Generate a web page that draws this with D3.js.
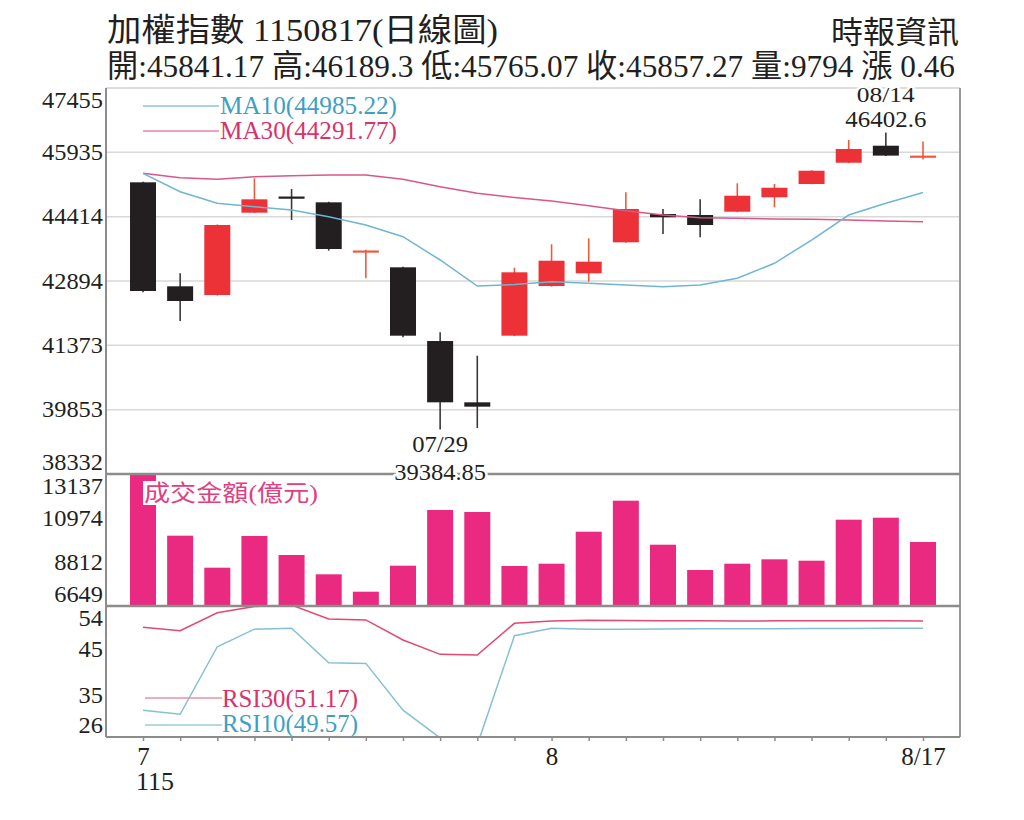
<!DOCTYPE html>
<html><head><meta charset="utf-8">
<script src="https://cdn.jsdelivr.net/npm/d3@7"></script>
<style>body{margin:0;background:#fff}svg{display:block;background:#fff}</style>
</head><body><svg id="c" width="1024" height="820"></svg>
<script>
// ---------- data ----------
const dates = ["07/17","07/20","07/21","07/22","07/23","07/24","07/27","07/28","07/29","07/30","07/31",
               "08/03","08/04","08/05","08/06","08/07","08/10","08/11","08/12","08/13","08/14","08/17"];
const openP  = [45226,42768,42562,44508,44890,44753,43595,43217,41475,40026,41601,
                42775,43075,43808,44477,44453,44531,44872,45186,45689,46091,45841.17];
const highP  = [45240,43075,44230,45320,45068,44765,43630,43230,41681,41128,43208,
                43761,43902,44989,44595,44824,45202,45186,45510,46226,46402.6,46189.3];
const lowP   = [42630,41948,42550,44500,44335,43610,42957,41563,39384.85,39420,41590,
                42760,42877,43800,44004,43926,44520,44635,45180,45680,45850,45765.07];
const closeP = [42657,42421,44217,44824,44860,43650,43615,41601,40026,39923,43099,
                43373,43350,44595,44399,44217,44909,45098,45500,46013,45856.81,45857.27];
const volume = [13250,10105,8532,10090,9156,8206,7352,8630,11368,11269,8615,
                8728,10301,11825,9662,8418,8728,8944,8876,10891,10989,9794];
const ma10 = [45439,45004,44730,44649,44571,44413,44217,43941,43390,42775,42810,
              42877,42838,42799,42759,42799,42957,43312,43862,44453,44730,44985.22];
const ma30 = [45439,45335,45297,45359,45382,45399,45399,45297,45122,44966,44866,
              44784,44673,44555,44453,44390,44375,44359,44351,44335,44311,44291.77];
const rsi10 = [31.9,31.0,45.6,49.4,49.6,42.15,42.0,31.9,25.9,24.4,47.98,
               49.58,49.37,49.4,49.45,49.5,49.5,49.5,49.55,49.55,49.57,49.57];
const rsi30 = [49.8,49.06,52.95,54.3,54.6,51.6,51.4,47.05,43.96,43.8,50.66,
               51.16,51.3,51.25,51.2,51.2,51.15,51.2,51.2,51.2,51.2,51.17];
const priceTicks  = [38332,39853,41373,42894,44414,45935,47455];
const volumeTicks = [6649,8812,10974,13137];
const rsiTicks    = [26,35,45,54];
const xTickLabels = {"07/17":"7","08/03":"8","08/17":"8/17"};
const yearLabel = "115";
const titleText = "加權指數 1150817(日線圖)";
const infoText  = "開:45841.17 高:46189.3 低:45765.07 收:45857.27 量:9794 漲 0.46";
const sourceText = "時報資訊";
const ma10Label = "MA10(44985.22)", ma30Label = "MA30(44291.77)";
const rsi30Label = "RSI30(51.17)", rsi10Label = "RSI10(49.57)";
const volLabel = "成交金額(億元)";
const hiNote = ["08/14","46402.6"], loNote = ["07/29","39384.85"];

// ---------- layout ----------
const L = 106, R = 960, T = 88, PB = 474, VB = 606, RB = 737;
const SERIF = "'Liberation Serif','DejaVu Serif','Noto Sans CJK TC',serif";
const CJK = "'Liberation Serif','Noto Sans CJK TC',serif";
const RED = "#ec3237", RED_WICK = "#ef5a3c", BLACK = "#231f20";
const PINK = "#ea2a80", CYAN_L = "#6fb6d0", MAG_L = "#d9578a";

const svg = d3.select("#c");
const x = d3.scalePoint().domain(dates).range([143, 923]);
const yP = d3.scaleLinear().domain([38332, 47455]).range([PB, T]);
const yV = d3.scaleLinear().domain([6649, 13137]).range([VB, PB]).clamp(true);
const yR = d3.scaleLinear().domain([26.1, 54.4]).range([RB, VB]);

const defs = svg.append("defs");
function clip(id, y0, y1){
  defs.append("clipPath").attr("id", id).append("rect")
    .attr("x", L).attr("y", y0).attr("width", R - L).attr("height", y1 - y0);
}
clip("cp", T, PB); clip("cv", PB, VB); clip("cr", VB, RB);

// gridlines
svg.append("g").selectAll("line").data(priceTicks.slice(1, -1)).join("line")
  .attr("x1", L).attr("x2", R).attr("y1", d => yP(d)).attr("y2", d => yP(d))
  .attr("stroke", "#d9d9d9").attr("stroke-width", 1.5);
svg.append("line").attr("x1", L).attr("x2", R).attr("y1", T).attr("y2", T)
  .attr("stroke", "#d0d0d0").attr("stroke-width", 1.5);

// ---------- candles ----------
const idx = d3.range(dates.length);
const gc = svg.append("g").attr("clip-path", "url(#cp)");
const bw = 26;
gc.selectAll("line.w").data(idx).join("line").attr("class", "w")
  .attr("x1", i => x(dates[i])).attr("x2", i => x(dates[i]))
  .attr("y1", i => yP(highP[i])).attr("y2", i => yP(lowP[i]))
  .attr("stroke", i => closeP[i] >= openP[i] ? RED_WICK : "#3a3a3a")
  .attr("stroke-width", 1.6);
gc.selectAll("rect.b").data(idx).join("rect").attr("class", "b")
  .attr("x", i => x(dates[i]) - bw / 2).attr("width", bw)
  .attr("y", i => yP(Math.max(openP[i], closeP[i])))
  .attr("height", i => Math.max(2.2, Math.abs(yP(openP[i]) - yP(closeP[i]))))
  .attr("fill", i => {
    const up = closeP[i] >= openP[i];
    const small = Math.abs(yP(openP[i]) - yP(closeP[i])) < 2.2;
    return up ? (small ? RED_WICK : RED) : BLACK;
  });

// MA lines
const line = (arr, sc) => d3.line().x((d, i) => x(dates[i])).y(d => sc(d))(arr);
gc.append("path").attr("d", line(ma30, yP)).attr("fill", "none").attr("stroke", MAG_L).attr("stroke-width", 1.5);
gc.append("path").attr("d", line(ma10, yP)).attr("fill", "none").attr("stroke", CYAN_L).attr("stroke-width", 1.5);

// ---------- volume ----------
const gv = svg.append("g").attr("clip-path", "url(#cv)");
gv.selectAll("rect").data(idx).join("rect")
  .attr("x", i => x(dates[i]) - bw / 2).attr("width", bw)
  .attr("y", i => yV(volume[i])).attr("height", i => VB - yV(volume[i]))
  .attr("fill", PINK);

// ---------- RSI ----------
const gr = svg.append("g").attr("clip-path", "url(#cr)");
gr.append("path").attr("d", line(rsi30, yR)).attr("fill", "none").attr("stroke", "#df4a6e").attr("stroke-width", 1.5);
gr.append("path").attr("d", line(rsi10, yR)).attr("fill", "none").attr("stroke", "#86c0d2").attr("stroke-width", 1.5);

// ---------- frame ----------
const fr = svg.append("g").attr("stroke", "#8c8c8c").attr("fill", "none");
fr.append("line").attr("x1", L).attr("x2", L).attr("y1", T).attr("y2", RB).attr("stroke-width", 2);
fr.append("line").attr("x1", R).attr("x2", R).attr("y1", T).attr("y2", RB).attr("stroke-width", 2).attr("stroke", "#9a9a9a");
[PB, VB].forEach(yy => fr.append("line").attr("x1", L).attr("x2", R).attr("y1", yy).attr("y2", yy).attr("stroke-width", 2.5));
fr.append("line").attr("x1", L).attr("x2", R).attr("y1", RB).attr("y2", RB).attr("stroke-width", 2);

// ---------- y axes ----------
function yAxis(scale, ticks, top, bottom){
  const g = svg.append("g").attr("transform", `translate(${L},0)`)
    .call(d3.axisLeft(scale).tickValues(ticks).tickSize(0).tickPadding(3).tickFormat(d3.format("d")));
  g.select(".domain").remove();
  g.attr("font-family", SERIF).attr("font-size", 24);
  g.selectAll(".tick").attr("transform", d => `translate(0,${Math.max(top + 12.5, Math.min(bottom - 11.5, scale(d)))})`);
  g.selectAll(".tick text").attr("fill", BLACK)
    .attr("textLength", function(){ return this.textContent.length * 12.2; })
    .attr("lengthAdjust", "spacingAndGlyphs");
}
yAxis(yP, priceTicks, T, PB);
yAxis(yV, volumeTicks, PB, VB);
yAxis(yR, rsiTicks, VB, RB);

// ---------- x axis ----------
const gx = svg.append("g").attr("transform", `translate(0,${RB})`)
  .call(d3.axisBottom(x).tickValues(dates).tickSize(4).tickPadding(6).tickFormat(d => xTickLabels[d] || ""));
gx.select(".domain").remove();
gx.attr("font-family", SERIF).attr("font-size", 25);
gx.selectAll(".tick line").attr("stroke", "#8c8c8c").attr("stroke-width", 1.5);
gx.selectAll(".tick text").attr("fill", BLACK);
svg.append("text").attr("x", x(dates[0]) - 7).attr("y", 790).attr("font-family", SERIF)
  .attr("font-size", 25).attr("fill", BLACK).attr("textLength", 38).attr("lengthAdjust", "spacingAndGlyphs").text(yearLabel);

// ---------- texts ----------
function txt(s, xx, yy, size, fill, opts = {}){
  const t = svg.append("text").attr("x", xx).attr("y", yy).attr("font-family", opts.font || SERIF)
    .attr("font-size", size).attr("fill", fill).attr("text-anchor", opts.anchor || "start").text(s);
  if (opts.len) t.attr("textLength", opts.len).attr("lengthAdjust", "spacingAndGlyphs");
  if (opts.halo) t.attr("stroke", "#fff").attr("stroke-width", 5).attr("paint-order", "stroke").attr("stroke-linejoin", "round");
  return t;
}
txt(titleText, 107, 41, 32, BLACK, {font: CJK, len: 391});
txt(infoText, 107, 77, 32, BLACK, {font: CJK, len: 848});
txt(sourceText, 959, 43, 31, BLACK, {font: CJK, anchor: "end", len: 128});

// MA legend
svg.append("line").attr("x1", 143).attr("x2", 219).attr("y1", 106).attr("y2", 106).attr("stroke", "#8cc4d8").attr("stroke-width", 1.5);
svg.append("line").attr("x1", 143).attr("x2", 219).attr("y1", 131).attr("y2", 131).attr("stroke", "#e088a8").attr("stroke-width", 1.5);
txt(ma10Label, 220, 114, 25, "#3f9fc3", {len: 177});
txt(ma30Label, 220, 139, 25, "#d8336b", {len: 177});

// hi / lo notes
txt(hiNote[0], x(dates[20]), 102, 22, BLACK, {anchor: "middle", halo: true, len: 58});
txt(hiNote[1], x(dates[20]), 127, 24, BLACK, {anchor: "middle", halo: true, len: 81});
txt(loNote[0], x(dates[8]), 452, 24, BLACK, {anchor: "middle", halo: true, len: 56});
txt(loNote[1], x(dates[8]), 480, 24, BLACK, {anchor: "middle", halo: true, len: 92});

// volume label
svg.append("rect").attr("x", 143).attr("y", 481).attr("width", 176).attr("height", 24).attr("fill", "#fff");
txt(volLabel, 144, 501, 23, "#e0407f", {font: CJK, len: 174});

// RSI legend
svg.append("line").attr("x1", 145).attr("x2", 222).attr("y1", 698).attr("y2", 698).attr("stroke", "#e890a8").attr("stroke-width", 1.5);
svg.append("line").attr("x1", 145).attr("x2", 222).attr("y1", 725).attr("y2", 725).attr("stroke", "#9ccbdc").attr("stroke-width", 1.5);
txt(rsi30Label, 222, 707, 25, "#d8336b", {len: 136});
txt(rsi10Label, 222, 732, 25, "#3f9fc3", {len: 136});
</script></body></html>
